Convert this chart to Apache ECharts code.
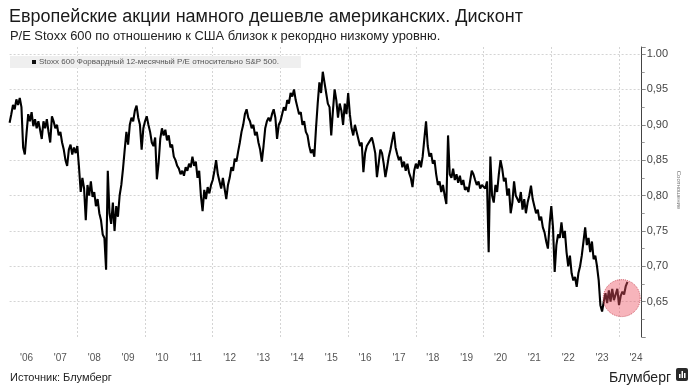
<!DOCTYPE html>
<html>
<head>
<meta charset="utf-8">
<script src="https://cdn.jsdelivr.net/npm/echarts@6/dist/echarts.min.js"></script>
<style>
html,body{margin:0;padding:0;background:#fff;}
#chart{width:695px;height:388px;}
</style>
</head>
<body>
<div id="chart"></div>
<script>
// ---- Data (Stoxx 600 forward 12m P/E relative to S&P 500), ~biweekly readings per year ----
const y2006 = [0.903, 0.915, 0.928, 0.922, 0.936, 0.928, 0.938, 0.925, 0.868, 0.858, 0.888, 0.915, 0.905, 0.918, 0.898, 0.908, 0.895, 0.905, 0.893, 0.88];
const y2007 = [0.905, 0.895, 0.908, 0.89, 0.875, 0.912, 0.905, 0.895, 0.9, 0.885, 0.89, 0.875, 0.865, 0.85, 0.842, 0.865, 0.872, 0.858, 0.868, 0.86];
const y2008 = [0.87, 0.84, 0.805, 0.825, 0.81, 0.765, 0.815, 0.8, 0.82, 0.798, 0.805, 0.785, 0.795, 0.775, 0.765, 0.745, 0.74, 0.695, 0.835, 0.775];
const y2009 = [0.76, 0.79, 0.75, 0.785, 0.77, 0.8, 0.815, 0.838, 0.865, 0.89, 0.872, 0.9, 0.91, 0.905, 0.92, 0.927, 0.91, 0.9, 0.865, 0.895];
const y2010 = [0.905, 0.912, 0.9, 0.89, 0.875, 0.87, 0.882, 0.823, 0.845, 0.88, 0.895, 0.885, 0.893, 0.878, 0.885, 0.868, 0.872, 0.855, 0.85, 0.842];
const y2011 = [0.838, 0.83, 0.835, 0.828, 0.84, 0.835, 0.845, 0.84, 0.855, 0.842, 0.848, 0.825, 0.835, 0.8, 0.778, 0.808, 0.795, 0.812, 0.803, 0.815];
const y2012 = [0.822, 0.835, 0.85, 0.83, 0.82, 0.81, 0.825, 0.81, 0.795, 0.815, 0.825, 0.84, 0.835, 0.852, 0.848, 0.862, 0.875, 0.89, 0.9, 0.915];
const y2013 = [0.922, 0.91, 0.905, 0.895, 0.9, 0.885, 0.89, 0.875, 0.865, 0.848, 0.87, 0.895, 0.905, 0.91, 0.905, 0.915, 0.922, 0.91, 0.88, 0.9];
const y2014 = [0.905, 0.915, 0.925, 0.92, 0.935, 0.93, 0.945, 0.94, 0.95, 0.935, 0.925, 0.915, 0.918, 0.9, 0.905, 0.89, 0.885, 0.87, 0.86, 0.865];
const y2015 = [0.855, 0.895, 0.93, 0.96, 0.945, 0.975, 0.96, 0.945, 0.93, 0.925, 0.885, 0.92, 0.95, 0.935, 0.91, 0.93, 0.92, 0.9, 0.93, 0.915];
const y2016 = [0.945, 0.915, 0.895, 0.885, 0.9, 0.89, 0.88, 0.87, 0.875, 0.833, 0.86, 0.87, 0.868, 0.878, 0.882, 0.872, 0.86, 0.826, 0.845, 0.865];
const y2017 = [0.86, 0.845, 0.826, 0.84, 0.855, 0.865, 0.878, 0.89, 0.868, 0.858, 0.85, 0.855, 0.84, 0.848, 0.835, 0.845, 0.832, 0.825, 0.812, 0.835];
const y2018 = [0.845, 0.838, 0.85, 0.84, 0.855, 0.88, 0.905, 0.87, 0.855, 0.86, 0.845, 0.85, 0.83, 0.815, 0.82, 0.805, 0.815, 0.8, 0.788, 0.885];
const y2019 = [0.83, 0.825, 0.838, 0.822, 0.83, 0.818, 0.828, 0.815, 0.822, 0.808, 0.812, 0.805, 0.82, 0.835, 0.83, 0.822, 0.815, 0.82, 0.81, 0.815];
const y2020 = [0.815, 0.81, 0.82, 0.72, 0.855, 0.8, 0.79, 0.815, 0.805, 0.83, 0.85, 0.838, 0.82, 0.825, 0.8, 0.81, 0.775, 0.79, 0.82, 0.8];
const y2021 = [0.8, 0.79, 0.805, 0.78, 0.795, 0.775, 0.79, 0.8, 0.814, 0.795, 0.785, 0.775, 0.78, 0.765, 0.77, 0.755, 0.748, 0.735, 0.725, 0.76];
const y2022 = [0.785, 0.755, 0.692, 0.73, 0.745, 0.74, 0.762, 0.74, 0.75, 0.72, 0.7, 0.715, 0.69, 0.68, 0.685, 0.671, 0.69, 0.7, 0.715, 0.735];
const y2023 = [0.755, 0.73, 0.74, 0.72, 0.735, 0.71, 0.715, 0.7, 0.68, 0.645, 0.636, 0.65, 0.662, 0.648, 0.666, 0.65, 0.668, 0.652, 0.66, 0.668];
const y2024 = [0.645, 0.658, 0.664, 0.66, 0.672, 0.678];

const yearBlocks = [
  [2006, y2006], [2007, y2007], [2008, y2008], [2009, y2009], [2010, y2010],
  [2011, y2011], [2012, y2012], [2013, y2013], [2014, y2014], [2015, y2015],
  [2016, y2016], [2017, y2017], [2018, y2018], [2019, y2019], [2020, y2020],
  [2021, y2021], [2022, y2022], [2023, y2023], [2024, y2024]
];
const readingsPerYear = 20;

// highlighted recent region (circle)
const highlight = [[2024.08, 0.655]];

// axis labels
const yearLabels = ["'06","'07","'08","'09","'10","'11","'12","'13","'14","'15","'16","'17","'18","'19","'20","'21","'22","'23","'24"];
const firstLabelYear = 2006;

const seriesName = 'Stoxx 600 Форвардный 12-месячный P/E относительно S&P 500.';
const titleText = 'Европейские акции намного дешевле американских. Дисконт';
const subtitleText = 'P/E Stoxx 600 по отношению к США близок к рекордно низкому уровню.';
const sourceText = 'Источник: Блумберг';
const brandText = 'Блумберг';
const axisNameText = 'Соотношение';

// ---- build series data ----
const lineData = [];
yearBlocks.forEach(([yr, arr]) => {
  arr.forEach((v, i) => lineData.push([yr + i / readingsPerYear, v]));
});

const X_MIN = 2006, X_MAX = 2024.67;
const FONT = '"Liberation Sans", Arial, sans-serif';

const chart = echarts.init(document.getElementById('chart'), null, {renderer: 'canvas'});
const option = {
  animation: false,
  backgroundColor: '#ffffff',
  textStyle: {fontFamily: FONT},
  title: [
    {text: titleText, left: 4, top: 3, textStyle: {fontSize: 18, fontWeight: 'normal', color: '#1a1a1a', fontFamily: FONT}},
    {text: subtitleText, left: 5, top: 25, textStyle: {fontSize: 12.9, fontWeight: 'normal', color: '#222', fontFamily: FONT}},
    {text: sourceText, left: 5, top: 367, textStyle: {fontSize: 11, fontWeight: 'normal', color: '#222', fontFamily: FONT}},
    {text: brandText, left: 604, top: 366, textStyle: {fontSize: 14, fontWeight: 'normal', color: '#222', fontFamily: FONT}}
  ],
  legend: {
    left: 10, top: 56,
    padding: [2, 22, 2, 22],
    backgroundColor: '#efefef',
    icon: 'rect', itemWidth: 4, itemHeight: 4, itemGap: 4,
    selectedMode: false,
    data: [seriesName],
    textStyle: {fontSize: 8, color: '#555', fontFamily: FONT, padding: [0, 0, 0, -2]}
  },
  grid: {left: 9.6, right: 53.3, top: 47, bottom: 51, containLabel: false},
  xAxis: [
    {
      type: 'value', min: X_MIN, max: X_MAX, interval: 0.5,
      axisLine: {show: false}, axisTick: {show: false}, splitLine: {show: false},
      axisLabel: {
        margin: 16, fontSize: 10, color: '#555', fontFamily: FONT,
        formatter: (v) => {
          const f = Math.round((v - Math.floor(v)) * 100);
          if (f !== 50) return '';
          const idx = Math.floor(v) - firstLabelYear;
          return yearLabels[idx] || '';
        }
      }
    },
    {
      type: 'value', min: X_MIN, max: X_MAX, interval: 2,
      axisLine: {show: false}, axisTick: {show: false}, axisLabel: {show: false},
      splitLine: {show: true, showMinLine: false, showMaxLine: false, lineStyle: {color: '#d4d4d4', type: [2, 2], width: 1}}
    }
  ],
  yAxis: {
    type: 'value', position: 'right', min: 0.60, max: 1.01, interval: 0.05,
    axisLine: {show: true, lineStyle: {color: '#444', width: 1}},
    axisTick: {show: true, length: 4, lineStyle: {color: '#888'}},
    minorTick: {show: true, splitNumber: 2, length: 3, lineStyle: {color: '#999'}},
    splitLine: {show: true, showMinLine: false, showMaxLine: false, lineStyle: {color: '#d4d4d4', type: [2, 2], width: 1}},
    axisLabel: {
      margin: 5, fontSize: 11, color: '#444', fontFamily: FONT,
      formatter: (v) => {
        const r = Math.round(v * 100);
        if (r === 100) return '1.00';
        if (r < 65 || r > 100 || r % 5 !== 0) return '';
        return (r / 100).toFixed(2).replace('.', ',');
      }
    }
  },
  series: [
    {
      name: seriesName, type: 'line', xAxisIndex: 0, data: lineData,
      showSymbol: false, symbol: 'none', sampling: false, silent: true,
      lineStyle: {color: '#000', width: 2.1},
      itemStyle: {color: '#111'}, z: 2
    },
    {
      name: 'highlight', type: 'scatter', xAxisIndex: 0, data: highlight,
      symbol: 'circle', symbolSize: 37, silent: true, z: 5,
      itemStyle: {color: 'rgba(236, 84, 100, 0.55)', borderColor: '#c0404e', borderType: 'dotted', borderWidth: 1}
    }
  ],
  graphic: [
    {
      type: 'text', x: 679, y: 190, rotation: -Math.PI / 2,
      style: {text: axisNameText, fontSize: 6, fill: '#777', fontFamily: FONT, align: 'center', verticalAlign: 'middle'}
    },
    {
      type: 'group', x: 676, y: 368,
      children: [
        {type: 'rect', shape: {x: 0, y: 0, width: 12, height: 13, r: 2}, style: {fill: '#2a2a2a'}},
        {type: 'rect', shape: {x: 3, y: 6, width: 1.5, height: 4}, style: {fill: '#fff'}},
        {type: 'rect', shape: {x: 5.5, y: 3, width: 1.5, height: 7}, style: {fill: '#fff'}},
        {type: 'rect', shape: {x: 8, y: 5, width: 1.5, height: 5}, style: {fill: '#fff'}}
      ]
    }
  ]
};
chart.setOption(option);
</script>
</body>
</html>
